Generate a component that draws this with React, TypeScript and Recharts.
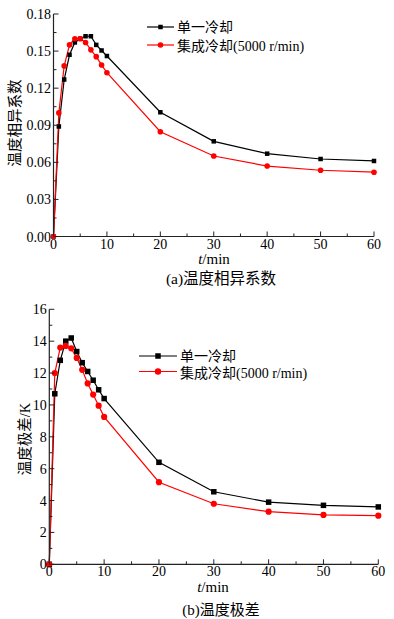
import React from 'react'
import { LineChart, Line, XAxis, YAxis } from 'recharts'

// time points (min)
const TIME = [0, 1, 2, 3, 4, 5, 6, 7, 8, 9, 10, 20, 30, 40, 50, 60]

// (a) temperature dissimilarity coefficient
const COEF_SINGLE = [0, 0.089, 0.127, 0.147, 0.157, 0.160, 0.162, 0.162, 0.155, 0.1505, 0.146, 0.1005, 0.077, 0.067, 0.0627, 0.0611]
const COEF_INTEGRATED = [0, 0.100, 0.138, 0.155, 0.160, 0.160, 0.157, 0.151, 0.1455, 0.1388, 0.1325, 0.0848, 0.0651, 0.057, 0.0536, 0.052]

// (b) temperature range, K
const RANGE_SINGLE = [0, 10.7, 12.8, 14.0, 14.2, 13.35, 12.65, 12.1, 11.55, 10.95, 10.4, 6.4, 4.55, 3.9, 3.7, 3.6]
const RANGE_INTEGRATED = [0, 12.0, 13.6, 13.7, 13.55, 12.95, 12.2, 11.35, 10.65, 9.95, 9.25, 5.15, 3.8, 3.3, 3.1, 3.05]

const SERIES_NAMES = ['单一冷却', '集成冷却(5000 r/min)']

const X_TICKS = [0, 5, 10, 15, 20, 25, 30, 35, 40, 45, 50, 55, 60]
const X_LABELS = [0, 10, 20, 30, 40, 50, 60]
const COEF_TICKS = [0, 0.015, 0.03, 0.045, 0.06, 0.075, 0.09, 0.105, 0.12, 0.135, 0.15, 0.165, 0.18]
const COEF_LABELS = ['0.00', '0.03', '0.06', '0.09', '0.12', '0.15', '0.18']
const RANGE_TICKS = [0, 1, 2, 3, 4, 5, 6, 7, 8, 9, 10, 11, 12, 13, 14, 15, 16]
const RANGE_LABELS = ['0', '2', '4', '6', '8', '10', '12', '14', '16']

const AXIS = '#222'
const BLACK = '#000000'
const RED = '#ff0000'
const FONT = '"Liberation Serif", "Noto Sans CJK SC", serif'

const coefData = TIME.map((t, i) => ({ t, single: COEF_SINGLE[i], integrated: COEF_INTEGRATED[i] }))
const rangeData = TIME.map((t, i) => ({ t, single: RANGE_SINGLE[i], integrated: RANGE_INTEGRATED[i] }))

function makeXTick(labelOffset: number) {
  return (props: any) => {
    const { x, y, payload } = props
    const major = X_LABELS.includes(payload.value)
    return (
      <g>
        <line x1={x} x2={x} y1={y} y2={y - (major ? 5 : 3)} stroke={AXIS} strokeWidth={1} />
        {major && (
          <text x={x} y={y + labelOffset} textAnchor="middle" fontSize={14} fill="#000" style={{ fontFamily: FONT }}>
            {payload.value}
          </text>
        )}
      </g>
    )
  }
}

const CoefXTick = makeXTick(12.5)
const RangeXTick = makeXTick(11.5)

function makeYTick(ticks: number[], labels: string[]) {
  return (props: any) => {
    const { x, y, payload } = props
    const idx = ticks.indexOf(payload.value)
    const major = idx % 2 === 0
    return (
      <g>
        <line x1={x} x2={x + (major ? 5 : 3)} y1={y} y2={y} stroke={AXIS} strokeWidth={1} />
        {major && (
          <text x={x - 2.5} y={y + 5} textAnchor="end" fontSize={14} fill="#000" style={{ fontFamily: FONT }}>
            {labels[idx / 2]}
          </text>
        )}
      </g>
    )
  }
}

const CoefYTick = makeYTick(COEF_TICKS, COEF_LABELS)
const RangeYTick = makeYTick(RANGE_TICKS, RANGE_LABELS)

function squareDot(size: number) {
  return (p: any) => (
    <rect key={`s-${p.index}`} x={p.cx - size / 2} y={p.cy - size / 2} width={size} height={size} fill={BLACK} />
  )
}

function circleDot(r: number) {
  return (p: any) => <circle key={`c-${p.index}`} cx={p.cx} cy={p.cy} r={r} fill={RED} />
}

function LegendBox({ left, top, lineLen, sq, r, gap }: any) {
  return (
    <svg width={240} height={gap + 20} style={{ position: 'absolute', left, top, overflow: 'visible' }}>
      <line x1={0} x2={lineLen} y1={9} y2={9} stroke={BLACK} strokeWidth={1.2} />
      <rect x={lineLen / 2 - sq / 2} y={9 - sq / 2} width={sq} height={sq} fill={BLACK} />
      <text x={lineLen + 3} y={14} fontSize={14} style={{ fontFamily: FONT }} fill="#000">{SERIES_NAMES[0]}</text>
      <line x1={0} x2={lineLen} y1={9 + gap} y2={9 + gap} stroke={RED} strokeWidth={1.2} />
      <circle cx={lineLen / 2} cy={9 + gap} r={r} fill={RED} />
      <text x={lineLen + 3} y={15 + gap} fontSize={14} style={{ fontFamily: FONT }} fill="#000">{SERIES_NAMES[1]}</text>
    </svg>
  )
}

function Centered({ x, y, size, rotate, lh = 1, children }: any) {
  return (
    <div
      style={{
        position: 'absolute', left: x, top: y, fontSize: size, lineHeight: lh, whiteSpace: 'nowrap',
        transform: `translate(-50%, -50%)${rotate ? ' rotate(-90deg)' : ''}`, color: '#000', fontFamily: FONT,
      }}
    >
      {children}
    </div>
  )
}

export default function App() {
  return (
    <div style={{ position: 'absolute', left: 0, top: 0, width: 394, height: 619, background: '#fff', fontFamily: FONT }}>
      {/* (a) */}
      <div style={{ position: 'absolute', left: 0, top: 0 }}>
        <LineChart width={394} height={260} data={coefData} margin={{ top: 14, right: 20, bottom: 0, left: 0 }}>
          <XAxis dataKey="t" type="number" domain={[0, 60]} ticks={X_TICKS} interval={0}
            height={23.5} tickSize={0} tickMargin={0} tickLine={false} tick={<CoefXTick />}
            axisLine={{ stroke: AXIS, strokeWidth: 1.2 }} />
          <YAxis type="number" domain={[0, 0.18]} ticks={COEF_TICKS} interval={0}
            width={53.5} tickSize={0} tickMargin={0} tickLine={false} tick={<CoefYTick />}
            axisLine={{ stroke: AXIS, strokeWidth: 1.2 }} />
          <Line type="linear" dataKey="single" name={SERIES_NAMES[0]} stroke={BLACK} strokeWidth={1.2}
            dot={squareDot(4.5)} activeDot={false} isAnimationActive={false} />
          <Line type="linear" dataKey="integrated" name={SERIES_NAMES[1]} stroke={RED} strokeWidth={1.2}
            dot={circleDot(2.8)} activeDot={false} isAnimationActive={false} />
        </LineChart>
      </div>
      <LegendBox left={147} top={18} lineLen={27} sq={4.5} r={2.8} gap={18} />
      <Centered x={15} y={123} size={14.5} rotate>温度相异系数</Centered>
      <Centered x={214} y={259} size={15} lh={0.7}><i>t</i>/min</Centered>
      <Centered x={221} y={279} size={15.5}>(a)温度相异系数</Centered>

      {/* (b) */}
      <div style={{ position: 'absolute', left: 0, top: 290 }}>
        <LineChart width={394} height={300} data={rangeData} margin={{ top: 19.3, right: 15.7, bottom: 0, left: 0 }}>
          <XAxis dataKey="t" type="number" domain={[0, 60]} ticks={X_TICKS} interval={0}
            height={25.7} tickSize={0} tickMargin={0} tickLine={false} tick={<RangeXTick />}
            axisLine={{ stroke: AXIS, strokeWidth: 1.2 }} />
          <YAxis type="number" domain={[0, 16]} ticks={RANGE_TICKS} interval={0}
            width={49.3} tickSize={0} tickMargin={0} tickLine={false} tick={<RangeYTick />}
            axisLine={{ stroke: AXIS, strokeWidth: 1.2 }} />
          <Line type="linear" dataKey="single" name={SERIES_NAMES[0]} stroke={BLACK} strokeWidth={1.2}
            dot={squareDot(5.5)} activeDot={false} isAnimationActive={false} />
          <Line type="linear" dataKey="integrated" name={SERIES_NAMES[1]} stroke={RED} strokeWidth={1.2}
            dot={circleDot(3.1)} activeDot={false} isAnimationActive={false} />
        </LineChart>
      </div>
      <LegendBox left={139} top={346.7} lineLen={38} sq={5.5} r={3.2} gap={15.5} />
      <Centered x={25} y={439} size={14.5} rotate>温度极差/K</Centered>
      <Centered x={213} y={587} size={15} lh={0.7}><i>t</i>/min</Centered>
      <Centered x={221} y={610} size={15}>(b)温度极差</Centered>
    </div>
  )
}
